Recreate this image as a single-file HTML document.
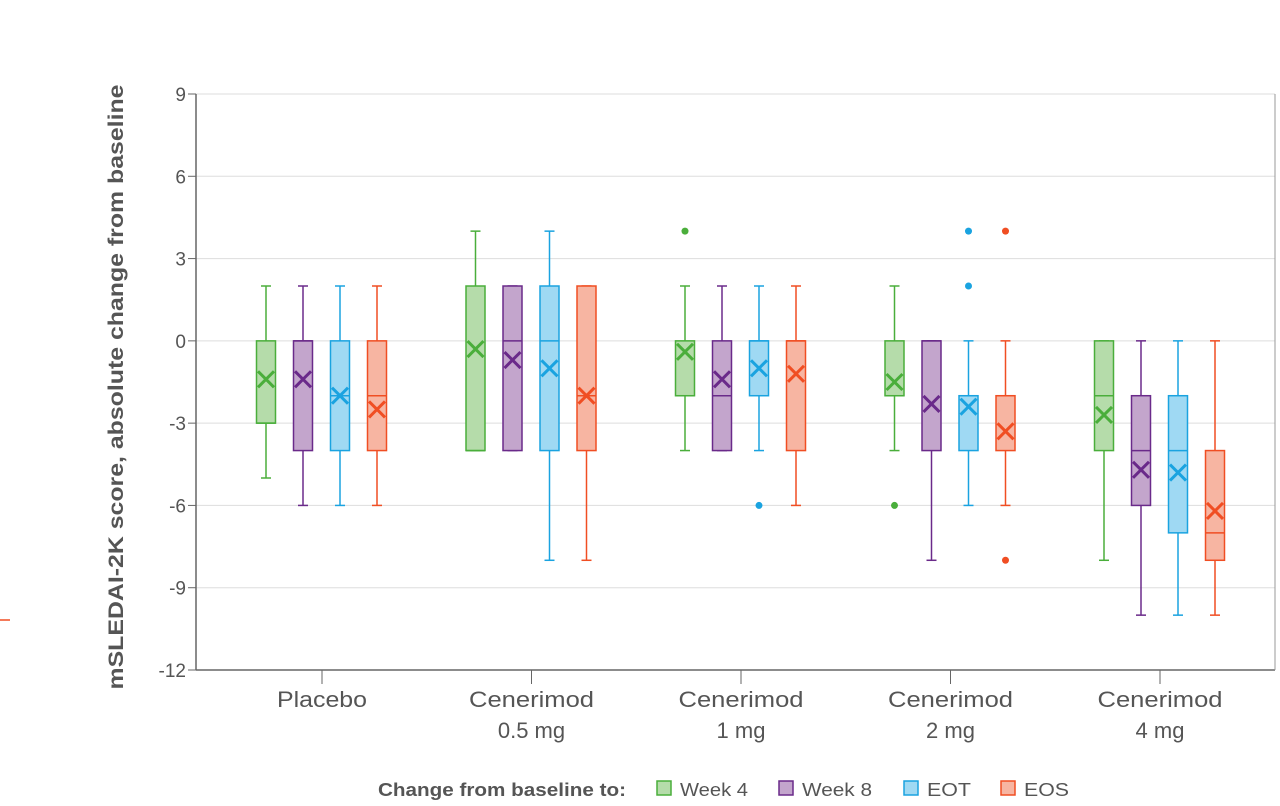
<!DOCTYPE html>
<html><head><meta charset="utf-8"><style>
body{margin:0;background:#fff;font-family:"Liberation Sans",sans-serif}
svg text{font-family:"Liberation Sans",sans-serif}
</style></head><body>
<svg id="c" width="1280" height="801">
<line x1="0" y1="620" x2="10" y2="620" stroke="#f04e23" stroke-width="1.5"/>
</svg>
<script>
const groups=["Placebo|","Cenerimod|0.5 mg","Cenerimod|1 mg","Cenerimod|2 mg","Cenerimod|4 mg"];
const series=["Week 4","Week 8","EOT","EOS"];
const yTicks=[9,6,3,0,-3,-6,-9,-12];
// each: [min,q1,median,q3,max,mean]
const week4=[[-5,-3,-3,0,2,-1.4],[-4,-4,-4,2,4,-0.3],[-4,-2,-2,0,2,-0.4],[-4,-2,-2,0,2,-1.5],[-8,-4,-2,0,0,-2.7]];
const week8=[[-6,-4,0,0,2,-1.4],[-4,-4,0,2,2,-0.7],[-4,-4,-2,0,2,-1.4],[-8,-4,0,0,0,-2.3],[-10,-6,-4,-2,0,-4.7]];
const eot=[[-6,-4,-2,0,2,-2],[-8,-4,0,2,4,-1],[-4,-2,0,0,2,-1],[-6,-4,-2,-2,0,-2.4],[-10,-7,-4,-2,0,-4.8]];
const eos=[[-6,-4,-2,0,2,-2.5],[-8,-4,-2,2,2,-2],[-6,-4,0,0,2,-1.2],[-6,-4,-2,-2,0,-3.3],[-10,-8,-7,-4,0,-6.2]];
const outWeek4=[[],[],[4],[-6],[]];
const outWeek8=[[],[],[],[],[]];
const outEot=[[],[],[-6],[4,2],[]];
const outEos=[[],[],[],[4,-8],[]];
const data=[week4,week8,eot,eos],outs=[outWeek4,outWeek8,outEot,outEos];
const stroke=["#4aae3b","#6a2a8a","#1aa3e0","#f04e23"],fill=["#b5dcaa","#c3a5cc","#9fd9f3","#f7b5a2"];
const svg=document.getElementById('c'),NS="http://www.w3.org/2000/svg";
const X0=196,X1=1275,Y0=94,Y1=670;
const y=v=>Y0+(9-v)*(Y1-Y0)/21;
const gx=i=>322+i*209.5;
const offs=[-56,-19,18,55];
function el(t,a,p){const e=document.createElementNS(NS,t);for(const k in a)e.setAttribute(k,a[k]);(p||svg).appendChild(e);return e;}
yTicks.forEach(t=>{
 const g=el('line',{x1:X0,x2:X1,y1:y(t),y2:y(t),stroke:t==-12?'#666':'#ddd','stroke-width':t==-12?1.5:1});
 
 
 el('line',{x1:X0-8,x2:X0,y1:y(t),y2:y(t),stroke:'#666'});
 const l=el('text',{x:186,y:y(t)+7,'text-anchor':'end','font-size':19,fill:'#555'});l.textContent=t;
 
 
});
el('line',{x1:X0,x2:X0,y1:Y0,y2:Y1,stroke:'#666','stroke-width':1.5});
el('line',{x1:X1,x2:X1,y1:Y0,y2:Y1,stroke:'#999','stroke-width':1});
const yt=el('text',{transform:'translate(123,387) rotate(-90)','text-anchor':'middle','font-size':21,'font-weight':'bold',fill:'#555',textLength:605,lengthAdjust:'spacingAndGlyphs'});
yt.textContent='mSLEDAI-2K score, absolute change from baseline';


groups.forEach((g,i)=>{
 const cx=gx(i);
 el('line',{x1:cx,x2:cx,y1:Y1,y2:Y1+14,stroke:'#666'});
 const [a,b]=g.split('|');
 const t1=el('text',{x:cx,y:707,'text-anchor':'middle','font-size':22,fill:'#555',textLength:a=='Placebo'?90:125,lengthAdjust:'spacingAndGlyphs'});t1.textContent=a;
 
 
 if(b){const t2=el('text',{x:cx,y:738,'text-anchor':'middle','font-size':22,fill:'#555'});t2.textContent=b;
 
 }
 data.forEach((s,k)=>{
  const [mn,q1,md,q3,mx,mean]=s[i],x=cx+offs[k],c=stroke[k];
  const gg=el('g',{});
  
  
  el('line',{x1:x,x2:x,y1:y(mx),y2:y(q3),stroke:c,'stroke-width':1.5},gg);
  el('line',{x1:x,x2:x,y1:y(q1),y2:y(mn),stroke:c,'stroke-width':1.5},gg);
  el('line',{x1:x-5,x2:x+5,y1:y(mx),y2:y(mx),stroke:c,'stroke-width':1.5},gg);
  el('line',{x1:x-5,x2:x+5,y1:y(mn),y2:y(mn),stroke:c,'stroke-width':1.5},gg);
  el('rect',{x:x-9.5,y:y(q3),width:19,height:y(q1)-y(q3),fill:fill[k],stroke:c,'stroke-width':1.5},gg);
  el('line',{x1:x-9.5,x2:x+9.5,y1:y(md),y2:y(md),stroke:c,'stroke-width':1.5},gg);
  const my=y(mean);
  el('path',{d:`M${x-8},${my-8}L${x+8},${my+8}M${x+8},${my-8}L${x-8},${my+8}`,stroke:c,'stroke-width':3},gg);
  outs[k][i].forEach(o=>el('circle',{cx:x,cy:y(o),r:3.5,fill:c},gg));
 });
});
const lg=el('g',{});


const lt=el('text',{x:378,y:796,'font-size':18,'font-weight':'bold',fill:'#555',textLength:248,lengthAdjust:'spacingAndGlyphs'},lg);lt.textContent='Change from baseline to:';
const lx=[657,779,904,1001];
const lw=[68,70,44,45];
series.forEach((s,k)=>{
 const e=el('g',{},lg);
 
 
 el('rect',{x:lx[k],y:781,width:14,height:14,fill:fill[k],stroke:stroke[k],'stroke-width':1.5},e);
 const t=el('text',{x:lx[k]+23,y:796,'font-size':18,fill:'#555',textLength:lw[k],lengthAdjust:'spacingAndGlyphs'},e);t.textContent=s;
});
</script>
</body></html>
